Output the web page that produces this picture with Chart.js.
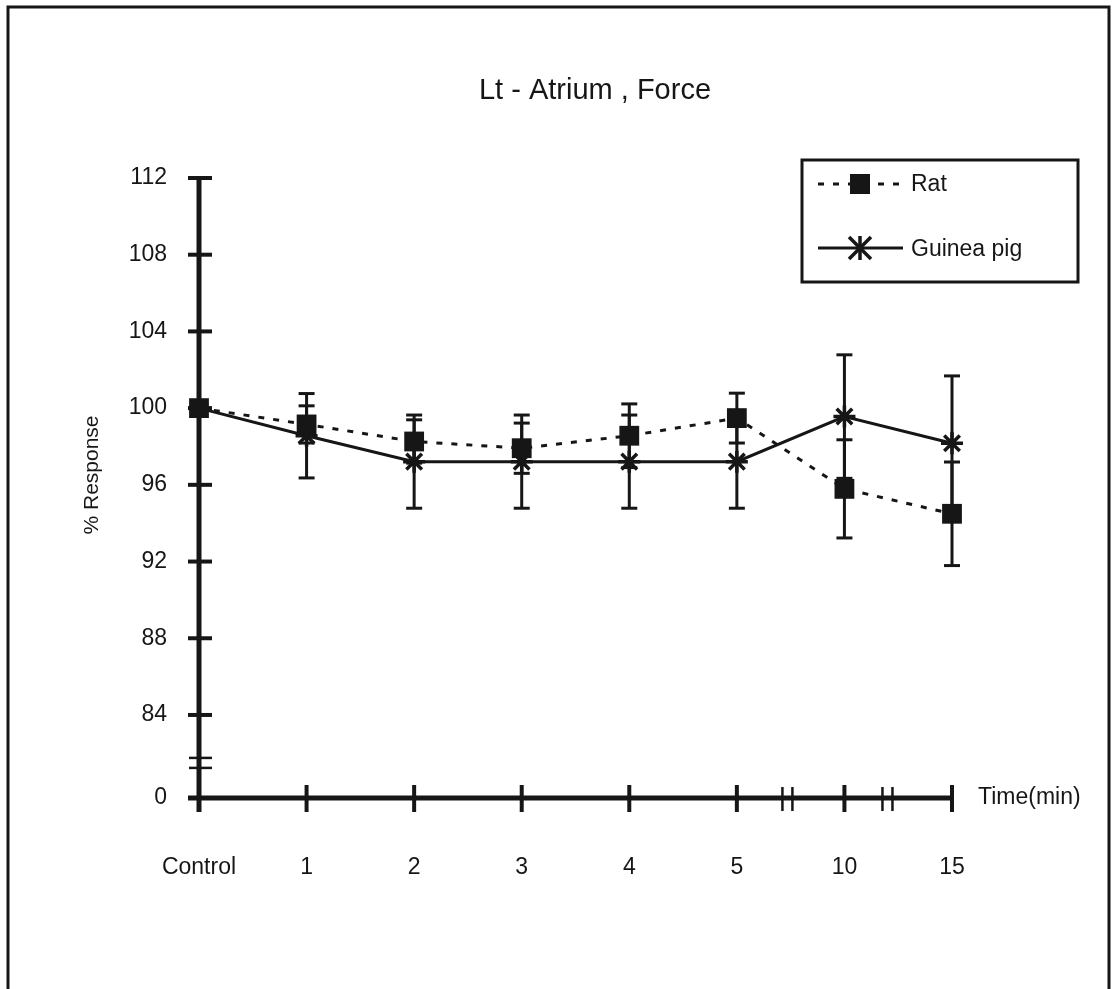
<!DOCTYPE html>
<html>
<head>
<meta charset="utf-8">
<title>Lt - Atrium , Force</title>
<script src="https://cdn.jsdelivr.net/npm/chart.js@4.4.1/dist/chart.umd.min.js"></script>
<style>
  html, body { margin: 0; padding: 0; background: #fff; }
  #wrap { position: relative; width: 1114px; height: 989px; }
</style>
</head>
<body>
<div id="wrap"><canvas id="myChart" width="1114" height="989"></canvas></div>
<script>
const TIME_LABELS = ['Control', '1', '2', '3', '4', '5', '10', '15'];

const ratMean = [100, 99.15, 98.26, 97.91, 98.56, 99.48, 95.79, 94.49];
const ratSem = [0, 0.97, 1.13, 1.31, 1.66, 1.3, 2.56, 2.7];

const guineaMean = [100, 98.56, 97.21, 97.21, 97.21, 97.21, 99.56, 98.17];
const guineaSem = [0, 2.2, 2.43, 2.43, 2.43, 2.43, 3.22, 3.51];

const Y_TICKS = [84, 88, 92, 96, 100, 104, 108, 112];
const Y_FLOOR = 79.67; // bottom of the broken axis, labelled 0
const Y_BREAK = 81.5;
const X_BREAKS = [5.47, 6.4]; // between 5-10 and 10-15 min

const FONT = '"Liberation Sans", Arial, sans-serif';
const INK = '#161616';

const ctx = document.getElementById('myChart').getContext('2d');

function line(c, x1, y1, x2, y2) {
  c.beginPath();
  c.moveTo(x1, y1);
  c.lineTo(x2, y2);
  c.stroke();
}

function drawErrors(c, xs, ys, means, sems) {
  means.forEach((m, i) => {
    if (!sems[i]) return;
    const px = xs.getPixelForValue(i);
    const top = ys.getPixelForValue(m + sems[i]);
    const bot = ys.getPixelForValue(m - sems[i]);
    line(c, px, top, px, bot);
    line(c, px - 8, top, px + 8, top);
    line(c, px - 8, bot, px + 8, bot);
  });
}

// axes, breaks, error bars, title and legend
const figurePlugin = {
  id: 'figure',
  beforeDatasetsDraw(chart) {
    const c = chart.ctx;
    const { x, y } = chart.scales;
    const x0 = x.getPixelForValue(0);
    const xEnd = x.getPixelForValue(TIME_LABELS.length - 1);
    const yBase = y.getPixelForValue(Y_FLOOR);
    const yTop = y.getPixelForValue(112);

    c.save();
    c.strokeStyle = INK;

    // page frame
    c.lineWidth = 3;
    c.strokeRect(8, 7, 1101, 1100);

    // axis lines
    c.lineWidth = 5;
    line(c, x0, yTop, x0, yBase + 14);
    line(c, x0 - 11, yBase, xEnd, yBase);

    // ticks across the y axis
    c.lineWidth = 4;
    [Y_FLOOR, ...Y_TICKS].forEach((v) => {
      const p = y.getPixelForValue(v);
      line(c, x0 - 11, p, x0 + 13, p);
    });

    // ticks across the x axis
    TIME_LABELS.forEach((_, i) => {
      if (i === 0) return;
      const p = x.getPixelForValue(i);
      line(c, p, yBase - 13, p, yBase + 14);
    });

    // axis break marks
    c.lineWidth = 2.5;
    const yb = y.getPixelForValue(Y_BREAK);
    line(c, x0 - 10, yb - 5, x0 + 13, yb - 5);
    line(c, x0 - 10, yb + 5, x0 + 13, yb + 5);
    X_BREAKS.forEach((v) => {
      const p = x.getPixelForValue(v);
      line(c, p - 5, yBase - 11, p - 5, yBase + 13);
      line(c, p + 5, yBase - 11, p + 5, yBase + 13);
    });

    // error bars
    c.lineWidth = 3;
    drawErrors(c, x, y, ratMean, ratSem);
    drawErrors(c, x, y, guineaMean, guineaSem);
    c.restore();
  },
  afterDraw(chart) {
    const c = chart.ctx;
    const { y } = chart.scales;
    const yBase = y.getPixelForValue(Y_FLOOR);

    c.save();
    c.fillStyle = INK;
    c.strokeStyle = INK;

    c.font = `29px ${FONT}`;
    c.textAlign = 'center';
    c.textBaseline = 'middle';
    c.fillText('Lt - Atrium , Force', 595, 91);

    c.font = `23px ${FONT}`;
    c.textAlign = 'left';
    c.fillText('Time(min)', 978, yBase);

    c.save();
    c.translate(92, 475);
    c.rotate(-Math.PI / 2);
    c.font = `21px ${FONT}`;
    c.textAlign = 'center';
    c.fillText('% Response', 0, 0);
    c.restore();

    // legend
    c.lineWidth = 3;
    c.strokeRect(802, 160, 276, 122);

    c.lineWidth = 3;
    c.setLineDash([6, 9]);
    line(c, 818, 184, 903, 184);
    c.setLineDash([]);
    c.fillRect(850, 174, 20, 20);

    line(c, 818, 248, 903, 248);
    c.lineWidth = 3.5;
    line(c, 849, 237, 871, 259);
    line(c, 849, 259, 871, 237);
    line(c, 860, 236, 860, 260);

    c.font = `23px ${FONT}`;
    c.textAlign = 'left';
    c.fillText('Rat', 911, 185);
    c.fillText('Guinea pig', 911, 250);
    c.restore();
  },
};

const myChart = new Chart(ctx, {
  type: 'line',
  data: {
    labels: TIME_LABELS,
    datasets: [
      {
        label: 'Rat',
        data: ratMean,
        borderColor: INK,
        borderWidth: 3,
        borderDash: [6, 9],
        pointStyle: 'rect',
        pointRadius: 14,
        pointBackgroundColor: INK,
        pointBorderWidth: 0,
        tension: 0,
        clip: false,
      },
      {
        label: 'Guinea pig',
        data: guineaMean,
        borderColor: INK,
        borderWidth: 3,
        pointStyle: 'star',
        pointRadius: 11,
        pointBorderColor: INK,
        pointBorderWidth: 3.5,
        tension: 0,
        clip: false,
      },
    ],
  },
  options: {
    responsive: false,
    animation: false,
    layout: { padding: { top: 178, right: 162, bottom: 0, left: 0 } },
    plugins: {
      legend: { display: false },
      tooltip: { enabled: false },
      title: { display: false },
    },
    scales: {
      x: {
        type: 'category',
        offset: false,
        grid: { display: false },
        border: { display: false },
        ticks: {
          color: INK,
          font: { family: FONT, size: 23 },
          padding: 48,
          autoSkip: false,
          maxRotation: 0,
        },
        afterFit(scale) { scale.height = 191; },
      },
      y: {
        type: 'linear',
        min: Y_FLOOR,
        max: 112,
        grid: { display: false },
        border: { display: false },
        ticks: {
          color: INK,
          font: { family: FONT, size: 23 },
          padding: 24,
          callback: (v) => (v === Y_FLOOR ? '0' : v),
        },
        afterBuildTicks(scale) {
          scale.ticks = [Y_FLOOR, ...Y_TICKS].map((v) => ({ value: v }));
        },
        afterFit(scale) { scale.width = 199; },
      },
    },
  },
  plugins: [figurePlugin],
});
</script>
</body>
</html>
